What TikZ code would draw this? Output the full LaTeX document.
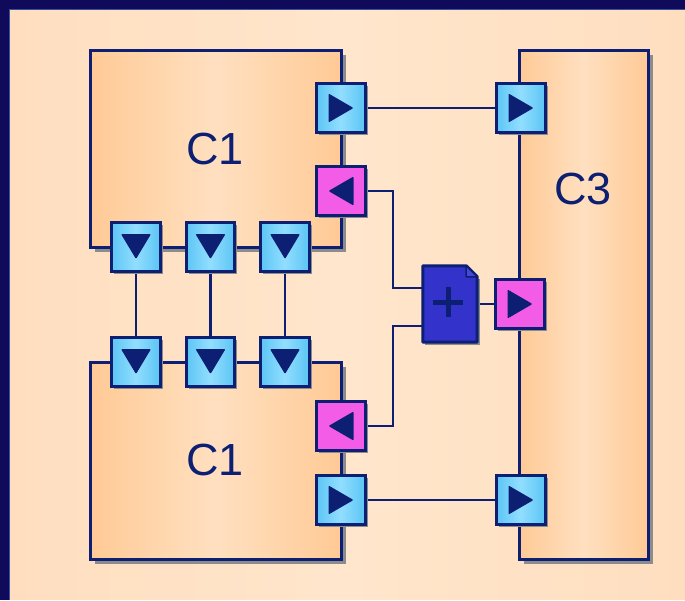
\documentclass[tikz,border=0pt]{standalone}
\usepackage{fontspec}
\setmainfont{Liberation Sans}
\usetikzlibrary{calc}
\definecolor{navy}{HTML}{0C1F73}
\definecolor{framec}{HTML}{100A5A}
\definecolor{framel}{HTML}{3A4FA0}
\definecolor{bgA}{HTML}{FFDEBF}
\definecolor{bgB}{HTML}{FFE6CC}
\definecolor{blkA}{HTML}{FFCA96}
\definecolor{blkB}{HTML}{FFE0C0}
\definecolor{portA}{HTML}{5CC5F4}
\definecolor{portB}{HTML}{92DEFF}
\definecolor{pinkc}{HTML}{F35CE6}
\definecolor{docc}{HTML}{3333CC}
\definecolor{docf}{HTML}{4848D8}
\definecolor{shadowc}{HTML}{8C8C8C}
% symmetric horizontal gradient over node #1 (edge colour #2, middle colour #3)
\newcommand\gradfill[3]{%
  \foreach \i in {0,...,39}{%
    \pgfmathsetmacro\pct{100*(1-abs(\i+0.5-20)/20)}%
    \pgfmathsetmacro\fa{\i/40}%
    \pgfmathsetmacro\fb{min(1,(\i+1.15)/40)}%
    \fill[#3!\pct!#2] ($(#1.south west)!\fa!(#1.south east)$) rectangle ($(#1.north west)!\fb!(#1.north east)$);
  }}
\newcommand\shadowbox[2]{\fill[shadowc] ($(#1.south west)+(#2,#2)$) rectangle ($(#1.north east)+(#2,#2)$);}
\newcommand\border[1]{\draw[navy, line width=3pt] (#1.south west) rectangle (#1.north east);}
\newcommand\blockdraw[1]{\shadowbox{#1}{4.5}\gradfill{#1}{blkA}{blkB}\border{#1}}
\newcommand\portdraw[1]{\shadowbox{#1}{2.5}\gradfill{#1}{portA}{portB}\border{#1}}
\newcommand\pinkdraw[1]{\shadowbox{#1}{2.5}\fill[pinkc] (#1.south west) rectangle (#1.north east);\border{#1}}
\tikzset{
  box/.style={draw=none, inner sep=0pt},
  portbox/.style={box, minimum size=48pt},
  wire/.style={draw=navy, line width=2.5pt},
  tri/.style={fill=navy, rounded corners=1pt},
  lbl/.style={text=navy, font=\fontsize{45}{50}\selectfont, inner sep=0pt}
}
\newcommand\rtri[1]{\fill[tri] ($(#1)+(-12.5,-14.5)$) -- ($(#1)+(12.5,0)$) -- ($(#1)+(-12.5,14.5)$) -- cycle;}
\newcommand\ltri[1]{\fill[tri] ($(#1)+(12.5,-14.5)$) -- ($(#1)+(-12.5,0)$) -- ($(#1)+(12.5,14.5)$) -- cycle;}
\newcommand\dtri[1]{\fill[tri] ($(#1)+(-15,-13)$) -- ($(#1)+(15,-13)$) -- ($(#1)+(0,12)$) -- cycle;}
\begin{document}
\begin{tikzpicture}[x=1pt,y=-1pt]
\useasboundingbox (0,0) rectangle (685,600);
% frame and background
\fill[framec] (0,0) rectangle (685,600);
\node[box, minimum width=676pt, minimum height=591pt] (bg) at (347,304.5) {};
\gradfill{bg}{bgA}{bgB}
\draw[framel, line width=1pt] (9.5,600) -- (9.5,9.5) -- (685,9.5);
% node placement
\node[box, minimum width=250pt, minimum height=196pt] (c1a) at (216,149) {};
\node[box, minimum width=250pt, minimum height=196pt] (c1b) at (216,461) {};
\node[box, minimum width=128pt, minimum height=508pt] (c3) at (584,305) {};
\node[box, minimum width=54pt, minimum height=76pt] (doc) at (450,304) {};
\node[portbox] (o1) at (341,108) {};
\node[portbox] (c3a) at (521,108) {};
\node[portbox] (i1) at (341,191) {};
\node[portbox] (pc3) at (520,304) {};
\node[portbox] (i2) at (341,426) {};
\node[portbox] (o2) at (341,500) {};
\node[portbox] (c3b) at (521,500) {};
\node[portbox] (d1) at (136,247) {};
\node[portbox] (d2) at (210.5,247) {};
\node[portbox] (d3) at (285,247) {};
\node[portbox] (e1) at (136,362) {};
\node[portbox] (e2) at (210.5,362) {};
\node[portbox] (e3) at (285,362) {};
% blocks
\blockdraw{c1a} \blockdraw{c1b} \blockdraw{c3}
% wires
\draw[wire] (o1.east) -- (c3a.west);
\draw[wire] (o2.east) -- (c3b.west);
\draw[wire] (d1.south) -- (e1.north);
\draw[wire] (d2.south) -- (e2.north);
\draw[wire] (d3.south) -- (e3.north);
\draw[wire] (i1.east) -| ($(doc.west)+(-30,-16)$) -- ($(doc.west)+(0,-16)$);
\draw[wire] ($(doc.west)+(0,22)$) -- ($(doc.west)+(-30,22)$) |- (i2.east);
\draw[wire] (doc.east) -- (pc3.west);
% ports
\portdraw{o1} \portdraw{c3a} \portdraw{o2} \portdraw{c3b}
\portdraw{d1} \portdraw{d2} \portdraw{d3} \portdraw{e1} \portdraw{e2} \portdraw{e3}
\pinkdraw{i1} \pinkdraw{i2} \pinkdraw{pc3}
% document shape
\fill[shadowc] ($(doc.south west)+(2.5,2.5)$) rectangle ($(doc.north east)+(2.5,13)$);
\filldraw[fill=docc, draw=navy, line width=3pt, line join=round]
  (doc.south west) -- (doc.north west) -- ($(doc.north east)+(-11,0)$) -- ($(doc.north east)+(0,11)$) -- (doc.south east) -- cycle;
\filldraw[fill=docf, draw=navy, line width=1.5pt, line join=round]
  ($(doc.north east)+(-11,0)$) -- ($(doc.north east)+(-11,11)$) -- ($(doc.north east)+(0,11)$) -- cycle;
\draw[navy, line width=5pt] ($(doc.center)+(-17,-2)$) -- ($(doc.center)+(13,-2)$);
\draw[navy, line width=5pt] ($(doc.center)+(-2,-17)$) -- ($(doc.center)+(-2,13)$);
% triangles
\rtri{o1} \rtri{c3a} \rtri{o2} \rtri{c3b} \rtri{pc3}
\ltri{i1} \ltri{i2}
\dtri{d1} \dtri{d2} \dtri{d3} \dtri{e1} \dtri{e2} \dtri{e3}
% labels
\node[lbl] (c1al) at (215,149) {C1};
\node[lbl] (c1bl) at (215,460) {C1};
\node[lbl] (c3l) at (583,189) {C3};
\end{tikzpicture}
\end{document}
